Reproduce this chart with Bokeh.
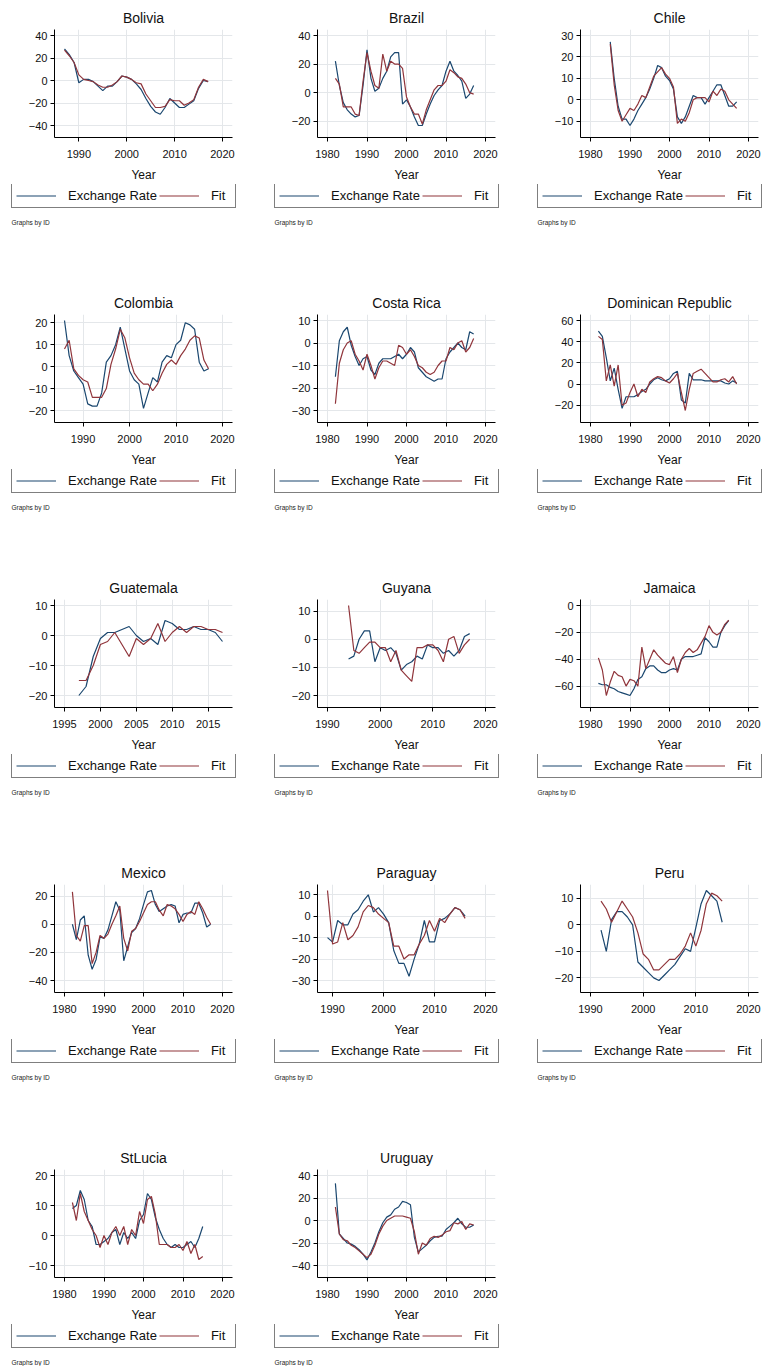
from bokeh.plotting import figure
from bokeh.models import Range1d, FixedTicker, Legend, LegendItem, Label
from bokeh.layouts import column, row
from bokeh.core.properties import value
from bokeh.embed import file_html
from bokeh.resources import INLINE

# ---------------- data ----------------
decade_ticks = [1980, 1990, 2000, 2010, 2020]
decade_ticks_90 = [1990, 2000, 2010, 2020]

bolivia_years = list(range(1987, 2018))
bolivia_exchange = [28, 23, 16, -2, 1, 1, -1, -5, -9, -5, -5, -1, 4, 3, 1, -3, -8, -16, -23, -28, -30, -24, -16, -20, -24, -24, -21, -18, -7, 0, -1]
bolivia_fit = [27, 22, 16, 5, 1, 0, -1, -4, -6, -6, -4, -1, 4, 3, 1, -2, -3, -12, -18, -24, -24, -23, -17, -18, -18, -22, -20, -17, -6, 1, -1]
bolivia_yticks = [-40, -20, 0, 20, 40]

brazil_years = list(range(1982, 2018))
brazil_exchange = [22, 5, -7, -12, -15, -17, -16, 5, 30, 10, 1, 3, 10, 15, 25, 28, 28, -8, -5, -10, -17, -23, -23, -15, -8, -2, 2, 5, 15, 22, 15, 12, 8, -4, -1, 5]
brazil_fit = [10, 6, -10, -10, -10, -15, -16, 8, 28, 15, 5, 3, 27, 15, 22, 20, 20, 17, -3, -10, -15, -15, -22, -12, -5, 2, 5, 5, 8, 16, 14, 11, 10, 6, 0, -1]
brazil_yticks = [-20, 0, 20, 40]

chile_years = list(range(1985, 2018))
chile_exchange = [27, 10, -3, -9, -9, -12, -9, -5, -2, 1, 5, 10, 16, 15, 11, 9, 5, -8, -11, -8, -3, 2, 1, 1, -2, 1, 4, 7, 7, 2, -3, -3, -1]
chile_fit = [26, 7, -5, -10, -7, -4, -5, -2, 2, 1, 6, 11, 13, 15, 12, 10, 6, -11, -9, -10, -6, 0, 1, 1, 1, -1, 4, 2, 5, 4, 0, -2, -4]
chile_yticks = [-10, 0, 10, 20, 30]

colombia_years = list(range(1986, 2018))
colombia_exchange = [21, 5, -2, -5, -8, -17, -18, -18, -12, 2, 5, 10, 18, 8, -2, -6, -8, -19, -12, -5, -7, 2, 5, 4, 10, 12, 20, 19, 17, 2, -2, -1]
colombia_fit = [8, 12, -1, -4, -6, -7, -14, -14, -14, -10, 1, 8, 17, 13, 4, -3, -6, -8, -8, -11, -8, -3, 1, 3, 1, 5, 8, 12, 14, 13, 3, -1]
colombia_yticks = [-20, -10, 0, 10, 20]

costarica_years = list(range(1982, 2018))
costarica_exchange = [-15, 1, 5, 7, -1, -6, -10, -7, -6, -12, -14, -9, -7, -7, -7, -6, -5, -7, -5, -2, -4, -11, -13, -15, -16, -17, -16, -16, -7, -4, -2, 0, -2, -3, 5, 4]
costarica_fit = [-27, -9, -3, 0, 1, -5, -8, -12, -5, -10, -16, -11, -8, -8, -9, -10, -1, -2, -5, -3, -6, -10, -11, -13, -14, -13, -10, -8, -8, -2, -3, 0, 1, -4, -2, 2]
costarica_yticks = [-30, -20, -10, 0, 10]

dominican_years = list(range(1982, 2018))
dominican_exchange = [50, 45, 25, 3, 15, -5, -23, -12, -12, -12, -10, -7, -5, 0, 4, 6, 4, 3, 5, 10, 12, -15, -18, 10, 4, 4, 4, 3, 3, 3, 3, 3, 1, 0, 3, 1]
dominican_fit = [45, 42, 3, 18, -2, 18, -20, -18, -8, 0, -12, -5, -8, 2, 5, 7, 6, 3, 1, 5, 10, -8, -25, -5, 10, 12, 14, 10, 6, 2, 2, 4, 5, 2, 7, 0]
dominican_yticks = [-20, 0, 20, 40, 60]

guatemala_years = list(range(1997, 2018))
guatemala_exchange = [-20, -17, -7, -1, 1, 1, 2, 3, 0, -2, -1, -3, 5, 4, 2, 2, 3, 2, 2, 1, -2]
guatemala_fit = [-15, -15, -10, -3, -2, 1, -3, -7, -1, -3, -1, 4, -2, 1, 3, 1, 3, 3, 2, 2, 1]
guatemala_xticks = [1995, 2000, 2005, 2010, 2015]
guatemala_yticks = [-20, -10, 0, 10]

guyana_years = list(range(1994, 2018))
guyana_exchange = [-7, -6, 0, 3, 3, -8, -3, -4, -3, -5, -11, -9, -8, -6, -7, -2, -3, -3, -5, -4, -6, -4, 1, 2]
guyana_fit = [12, -4, -5, -3, -1, -1, -3, -3, -8, -4, -11, -13, -15, -3, -3, -2, -2, -4, -8, 0, 1, -5, -2, 0]
guyana_yticks = [-20, -10, 0, 10]

jamaica_years = list(range(1982, 2016))
jamaica_exchange = [-58, -59, -59, -61, -62, -64, -65, -66, -67, -62, -55, -53, -47, -45, -45, -48, -50, -50, -48, -47, -48, -40, -38, -38, -38, -37, -36, -24, -27, -31, -31, -20, -15, -11]
jamaica_fit = [-39, -48, -67, -57, -49, -52, -53, -60, -55, -56, -60, -31, -47, -40, -33, -37, -40, -43, -44, -38, -50, -40, -35, -32, -35, -33, -28, -23, -15, -20, -22, -20, -14, -11]
jamaica_yticks = [-60, -40, -20, 0]

mexico_years = list(range(1982, 2018))
mexico_exchange = [0, -11, 3, 6, -22, -32, -25, -9, -10, -4, 6, 16, 10, -26, -16, -6, -3, 4, 14, 23, 24, 14, 9, 11, 13, 14, 13, 1, 7, 8, 8, 15, 15, 8, -2, 0]
mexico_fit = [23, -8, -12, -1, -1, -28, -20, -8, -10, -7, 0, 6, 13, -10, -19, -5, -3, 2, 8, 14, 16, 16, 10, 6, 14, 13, 11, 7, 2, 7, 9, 7, 16, 11, 5, 0]
mexico_yticks = [-40, -20, 0, 20]

paraguay_years = list(range(1989, 2017))
paraguay_exchange = [-10, -12, -2, -4, -4, 1, 3, 7, 10, 2, 4, 1, -3, -16, -22, -22, -28, -20, -13, -2, -12, -12, -2, -1, 1, 4, 3, 0]
paraguay_fit = [12, -13, -12, -3, -11, -9, -5, 2, 5, 4, 1, -1, -3, -14, -14, -20, -18, -18, -13, -9, -2, -7, -1, -3, 1, 4, 3, -1]
paraguay_yticks = [-30, -20, -10, 0, 10]

peru_years = list(range(1992, 2016))
peru_exchange = [-2, -10, 2, 5, 5, 3, 0, -14, -16, -18, -20, -21, -19, -17, -15, -12, -9, -10, -1, 8, 13, 11, 9, 1]
peru_fit = [9, 6, 1, 5, 9, 6, 3, -3, -11, -13, -17, -17, -15, -13, -13, -11, -8, -3, -8, -2, 8, 12, 11, 9]
peru_yticks = [-20, -10, 0, 10]

stlucia_years = list(range(1982, 2016))
stlucia_exchange = [9, 10, 15, 12, 5, 3, -3, -3, -2, -1, 1, 2, -3, 1, -1, 1, -1, 5, 7, 14, 12, 6, 2, -1, -3, -4, -3, -4, -4, -3, -2, -4, -1, 3]
stlucia_fit = [11, 5, 14, 8, 5, 2, 0, -4, 0, -3, 1, 3, 0, 3, -3, 2, 0, 8, 4, 12, 13, 7, -3, -3, -3, -4, -4, -3, -5, -2, -6, -3, -8, -7]
stlucia_yticks = [-10, 0, 10, 20]

uruguay_years = list(range(1982, 2018))
uruguay_exchange = [33, -12, -16, -20, -21, -23, -26, -30, -35, -28, -20, -10, -2, 3, 5, 10, 12, 17, 16, 14, -15, -28, -25, -22, -18, -15, -14, -14, -8, -5, -2, 2, -3, -6, -6, -4]
uruguay_fit = [12, -12, -17, -18, -22, -24, -27, -30, -33, -30, -22, -12, -5, 0, 2, 4, 4, 4, 3, 2, -10, -30, -20, -22, -16, -14, -15, -13, -10, -9, -2, -3, -1, -8, -3, -4]
uruguay_yticks = [-40, -20, 0, 20, 40]

panels = [
    ("Bolivia", bolivia_years, bolivia_exchange, bolivia_fit, decade_ticks_90, bolivia_yticks),
    ("Brazil", brazil_years, brazil_exchange, brazil_fit, decade_ticks, brazil_yticks),
    ("Chile", chile_years, chile_exchange, chile_fit, decade_ticks, chile_yticks),
    ("Colombia", colombia_years, colombia_exchange, colombia_fit, decade_ticks_90, colombia_yticks),
    ("Costa Rica", costarica_years, costarica_exchange, costarica_fit, decade_ticks, costarica_yticks),
    ("Dominican Republic", dominican_years, dominican_exchange, dominican_fit, decade_ticks, dominican_yticks),
    ("Guatemala", guatemala_years, guatemala_exchange, guatemala_fit, guatemala_xticks, guatemala_yticks),
    ("Guyana", guyana_years, guyana_exchange, guyana_fit, decade_ticks_90, guyana_yticks),
    ("Jamaica", jamaica_years, jamaica_exchange, jamaica_fit, decade_ticks, jamaica_yticks),
    ("Mexico", mexico_years, mexico_exchange, mexico_fit, decade_ticks, mexico_yticks),
    ("Paraguay", paraguay_years, paraguay_exchange, paraguay_fit, decade_ticks_90, paraguay_yticks),
    ("Peru", peru_years, peru_exchange, peru_fit, decade_ticks_90, peru_yticks),
    ("StLucia", stlucia_years, stlucia_exchange, stlucia_fit, decade_ticks, stlucia_yticks),
    ("Uruguay", uruguay_years, uruguay_exchange, uruguay_fit, decade_ticks, uruguay_yticks),
]

# ---------------- style / layout ----------------
FONT = "Liberation Sans"
BLUE = "#1a476f"
RED = "#90353b"
GRID = "#e4e7ea"

COL_W = [263, 263, 236]
ROW_H = [285, 285, 285, 285, 226]

FRAME_L = 54
FRAME_W = 178
FRAME_T = 29
FRAME_H = 108
MAIN_H = 184
PADX, PADT, PADB = 10, 6, 12
LEG_X = 11


def make_panel(r, c, name, years, exch, fit, xt, yt):
    W = COL_W[c]
    mh = MAIN_H
    left = FRAME_L
    fw = min(FRAME_W, W - left)
    right = W - left - fw

    xlo = min(min(years), min(xt))
    xhi = max(max(years), max(xt))
    pxu = (fw - 2 * PADX) / (xhi - xlo)
    ylo = min(min(exch), min(fit), min(yt))
    yhi = max(max(exch), max(fit), max(yt))
    pyu = (FRAME_H - PADT - PADB) / (yhi - ylo)

    p = figure(width=W, height=mh, toolbar_location=None, output_backend="svg",
               x_range=Range1d(xlo - PADX / pxu, xhi + PADX / pxu),
               y_range=Range1d(ylo - PADB / pyu, yhi + PADT / pyu),
               min_border_left=left, min_border_right=right,
               min_border_top=FRAME_T,
               min_border_bottom=MAIN_H - FRAME_T - FRAME_H,
               frame_align=False)
    p.outline_line_color = None
    p.background_fill_color = "white"
    p.border_fill_color = "white"

    p.title.text = name
    p.title.align = "center"
    p.title.text_font = FONT
    p.title.text_font_size = "14px"
    p.title.text_font_style = "normal"
    p.title.text_color = "#111111"
    p.title.standoff = 8

    p.xaxis.ticker = FixedTicker(ticks=xt)
    p.yaxis.ticker = FixedTicker(ticks=yt)
    for ax in (p.xaxis[0], p.yaxis[0]):
        ax.axis_line_color = "black"
        ax.major_tick_line_color = "black"
        ax.major_tick_out = 4
        ax.major_tick_in = 0
        ax.minor_tick_out = 0
        ax.minor_tick_in = 0
        ax.major_label_text_font = FONT
        ax.major_label_text_font_size = "11px"
        ax.major_label_text_color = "#111111"
    p.xaxis.major_label_standoff = 8
    p.yaxis.major_label_standoff = 3
    p.xaxis.axis_label = "Year"
    p.xaxis.axis_label_text_font = FONT
    p.xaxis.axis_label_text_font_size = "12px"
    p.xaxis.axis_label_text_font_style = "normal"
    p.xaxis.axis_label_text_color = "#111111"
    p.xaxis.axis_label_standoff = 7

    p.grid.grid_line_color = GRID
    p.grid.grid_line_width = 1

    p.line(years, exch, color=BLUE, line_width=1.2)
    p.line(years, fit, color=RED, line_width=1.2)

    # legend strip + note (its two key lines use the series but lie outside its view)
    lh = ROW_H[r] - mh
    lf = figure(width=W, height=lh, toolbar_location=None, output_backend="svg",
                x_range=Range1d(0, W), y_range=Range1d(0, lh),
                x_axis_type=None, y_axis_type=None,
                min_border_left=0, min_border_right=0, min_border_top=0, min_border_bottom=0,
                frame_align=False)
    lf.outline_line_color = None
    lf.grid.visible = False
    r1 = lf.line(years, exch, color=BLUE, line_width=1.2)
    r2 = lf.line(years, fit, color=RED, line_width=1.2)
    leg = Legend(items=[LegendItem(label=value("Exchange Rate"), renderers=[r1]),
                        LegendItem(label=value("Fit"), renderers=[r2])],
                 location=(LEG_X, lh - 1 - 23), orientation="horizontal",
                 border_line_color="black", border_line_width=1.2,
                 background_fill_color="white", background_fill_alpha=1.0,
                 padding=4, spacing=2, margin=0,
                 glyph_width=40, glyph_height=15, label_height=15,
                 label_standoff=12, label_text_font=FONT,
                 label_text_font_size="13px", label_text_color="#111111")
    lf.add_layout(leg)
    lf.add_layout(Label(x=LEG_X, y=lh - (222 - MAIN_H), text="Graphs by ID",
                        text_font=FONT, text_font_size="6.5px",
                        text_baseline="middle", text_color="#222222"))
    return column(p, lf, spacing=0)


rows = []
for i in range(0, len(panels), 3):
    r = i // 3
    cells = []
    for c, pan in enumerate(panels[i:i + 3]):
        cells.append(make_panel(r, c, *pan))
    rows.append(row(*cells, spacing=0))

layout = column(*rows, spacing=0)

open("out.html", "w").write(file_html(layout, INLINE, "Exchange rate and fit"))
